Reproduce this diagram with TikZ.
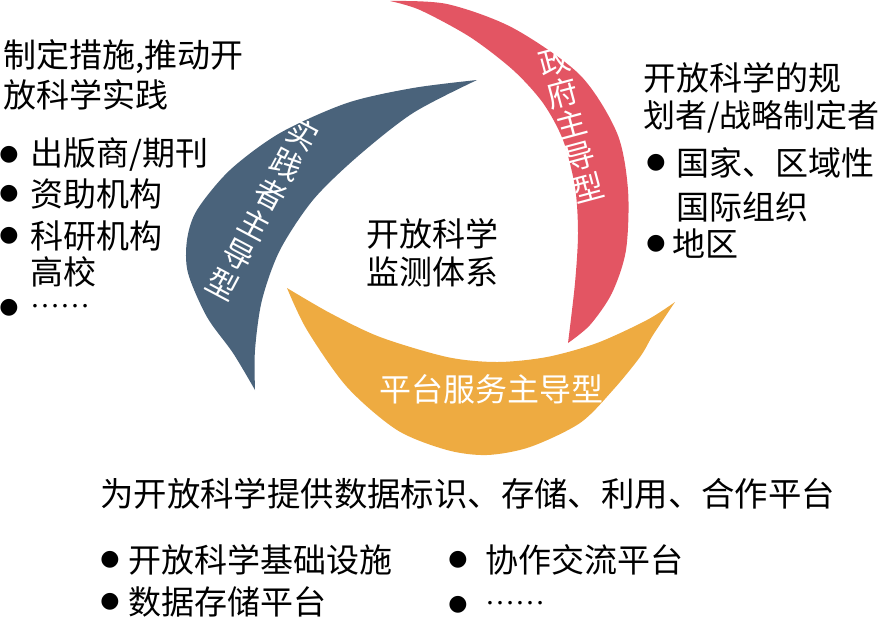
\documentclass[tikz,border=0pt]{standalone}
\usepackage{fontspec}
\setmainfont{Noto Sans CJK SC}
\newfontfamily\symfont{DejaVu Sans}
\newfontfamily\dotsfont{Liberation Serif}
\definecolor{govred}{HTML}{E35563}
\definecolor{pracblue}{HTML}{4A637B}
\definecolor{platorange}{HTML}{EEAB41}
\begin{document}
\begin{tikzpicture}[x=1pt,y=-1pt,
  every node/.style={inner sep=0pt, font=\fontsize{33}{38}\selectfont},
  txt/.style={anchor=west},
  bulletdot/.style={font=\symfont\fontsize{22}{22}\selectfont},
  petal/.style={text=white, align=center, font=\fontsize{31}{33}\selectfont}]
			\useasboundingbox (0,0) rectangle (885,625);
			% three petals
			\fill[pracblue] plot[smooth] coordinates {(477,80) (413,88) (347,103) (280,133) (230,170) (197,210) (187,240) (188,273) (207,317) (233,353) (255,390)}
				-- plot[smooth] coordinates {(255,390) (255,350) (262,300) (280,250) (313,200) (357,157) (413,113) (477,80)} -- cycle;
			\fill[govred] plot[smooth] coordinates {(390,1) (447,4) (513,28) (580,75) (617,133) (628,190) (626,250) (612,293) (590,325) (568,343)}
				-- plot[smooth] coordinates {(568,343) (575,283) (578,233) (575,187) (563,140) (543,103) (513,70) (470,37) (420,10) (390,1)} -- cycle;
			\fill[platorange] plot[smooth] coordinates {(287,288) (330,313) (380,337) (447,357) (497,362) (547,357) (597,343) (647,320) (675,302)}
				-- plot[smooth] coordinates {(675,302) (653,335) (640,357) (613,390) (580,423) (530,447) (487,455) (447,450) (397,430) (347,387) (307,330) (287,288)} -- cycle;
			% petal labels
			\node[petal, rotate=15] (G) at (571,124) {政\\府\\主\\导\\型};
			\node[petal, rotate=-28, font=\fontsize{31}{34}\selectfont] (P) at (263,209) {实\\践\\者\\主\\导\\型};
			\node[petal, font=\fontsize{32}{34}\selectfont] (S) at (491,389) {平台服务主导型};
			\node[align=center] (C) at (432,253) {开放科学\\监测体系};
			% left block
			\node[txt] (L1) at (3,57) {制定措施,推动开};
			\node[txt] (L2) at (3,95) {放科学实践};
			\node[bulletdot] (Lb1) at (9,155) {●};
			\node[txt] (L3) at (30,155) {出版商/期刊};
			\node[bulletdot] (Lb2) at (9,194) {●};
			\node[txt] (L4) at (30,194) {资助机构};
			\node[bulletdot] (Lb3) at (9,236) {●};
			\node[txt] (L5) at (30,236) {科研机构};
			\node[txt] (L6) at (30,272) {高校};
			\node[bulletdot] (Lb4) at (9,308) {●};
			\node[txt, font=\dotsfont\fontsize{30}{30}\selectfont] (L7) at (30,306) {……};
			% right block
			\node[txt] (R1) at (643,78) {开放科学的规};
			\node[txt, font=\fontsize{32}{38}\selectfont] (R2) at (643,117) {划者/战略制定者};
			\node[bulletdot] (Rb1) at (656,163) {●};
			\node[txt] (R3) at (676,163) {国家、区域性};
			\node[txt] (R4) at (676,207) {国际组织};
			\node[bulletdot] (Rb2) at (656,244) {●};
			\node[txt] (R5) at (672,244) {地区};
			% bottom block
			\node[txt, font=\fontsize{33.4}{38}\selectfont] (B1) at (100,494) {为开放科学提供数据标识、存储、利用、合作平台};
			\node[bulletdot] (Bb1) at (110,560) {●};
			\node[txt] (B2) at (128,560) {开放科学基础设施};
			\node[bulletdot] (Bb2) at (110,602) {●};
			\node[txt] (B3) at (128,602) {数据存储平台};
			\node[bulletdot] (Bb3) at (458,560) {●};
			\node[txt] (B4) at (485,560) {协作交流平台};
			\node[bulletdot] (Bb4) at (458,605) {●};
			\node[txt, font=\dotsfont\fontsize{30}{30}\selectfont] (B5) at (485,603) {……};
		\end{tikzpicture}
\end{document}
